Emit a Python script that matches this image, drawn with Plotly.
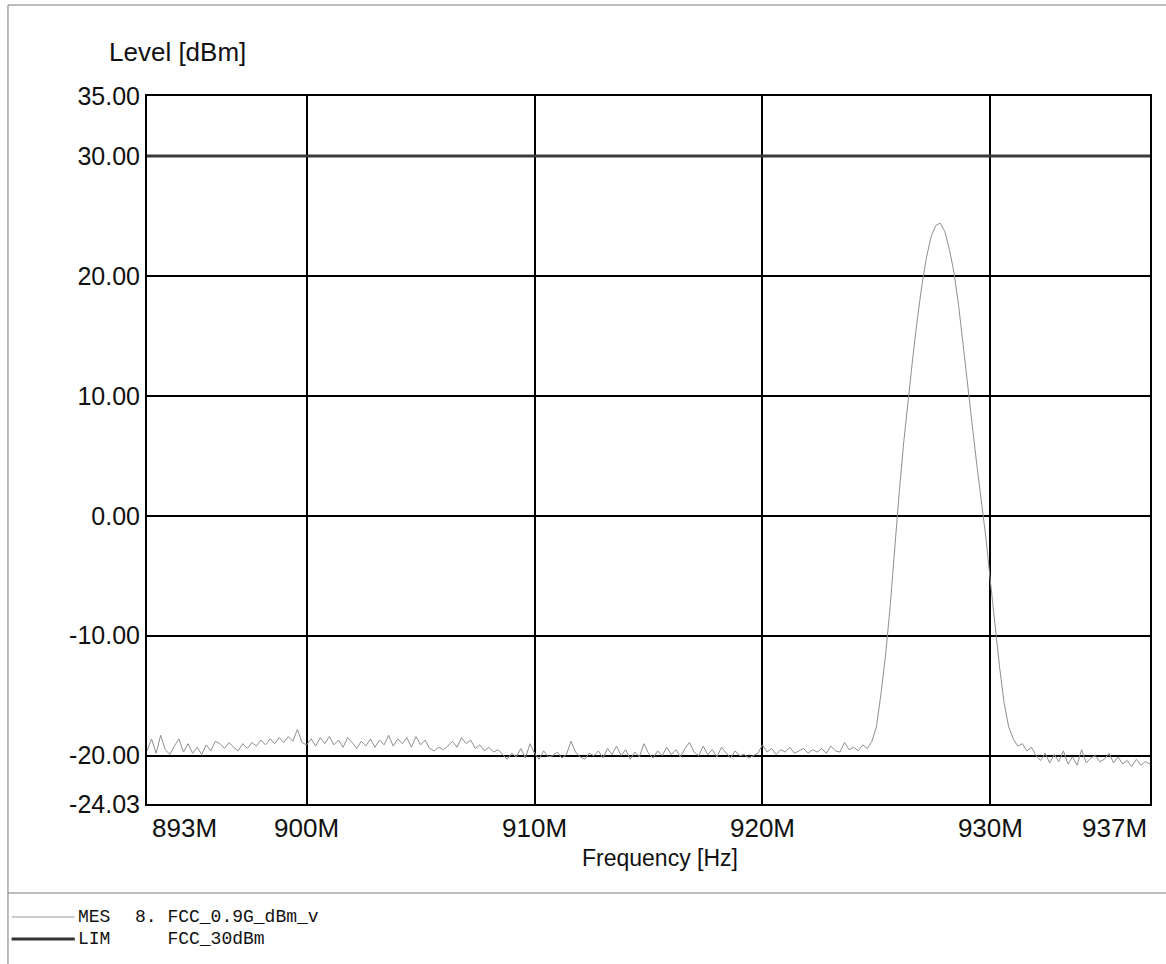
import numpy as np
import plotly.graph_objects as go

# sweep 893 MHz .. 937 MHz, 0.2 MHz step; one row per MHz (5 points)
f_start_mhz = 893.0
f_step_mhz = 0.2

level_dbm = [
    -19.6, -18.6, -19.8, -18.3, -19.5,  # 893
    -19.9, -19.2, -18.6, -19.7, -19.0,  # 894
    -19.8, -19.3, -19.9, -19.1, -19.6,  # 895
    -18.8, -19.0, -19.4, -18.9, -19.3,  # 896
    -19.6, -19.0, -19.4, -18.9, -19.2,  # 897
    -18.7, -19.1, -18.6, -19.0, -18.5,  # 898
    -18.9, -18.4, -18.8, -17.8, -18.9,  # 899
    -19.1, -18.6, -19.2, -18.5, -19.0,  # 900
    -18.4, -19.1, -18.7, -19.3, -18.5,  # 901
    -18.9, -19.4, -18.8, -19.2, -18.6,  # 902
    -19.3, -18.7, -19.1, -18.3, -19.2,  # 903
    -18.6, -19.0, -18.5, -19.3, -18.4,  # 904
    -19.1, -18.7, -19.4, -19.6, -19.3,  # 905
    -19.5, -19.2, -18.8, -19.3, -18.5,  # 906
    -19.0, -18.7, -19.4, -19.1, -19.6,  # 907
    -19.3, -19.7, -19.5, -19.9, -20.3,  # 908
    -19.8, -20.1, -19.4, -20.2, -19.0,  # 909
    -19.8, -20.3, -19.6, -20.1, -20.0,  # 910
    -19.7, -20.2, -19.9, -18.8, -19.7,  # 911
    -20.1, -20.3, -19.8, -20.0, -19.6,  # 912
    -20.2, -19.4, -19.9, -19.2, -20.0,  # 913
    -19.5, -20.3, -19.7, -20.1, -19.0,  # 914
    -19.8, -20.2, -19.6, -20.0, -19.3,  # 915
    -19.9, -19.5, -20.1, -19.4, -18.9,  # 916
    -19.7, -20.0, -19.2, -19.9, -19.5,  # 917
    -20.1, -19.3, -19.8, -20.2, -19.6,  # 918
    -20.0, -19.9, -20.2, -20.0, -19.8,  # 919
    -19.1, -19.7, -19.4, -19.9, -19.5,  # 920
    -19.7, -19.3, -19.8, -19.6, -19.4,  # 921
    -19.8, -19.5, -19.7, -19.4, -19.8,  # 922
    -19.2, -19.6, -19.7, -18.9, -19.5,  # 923
    -19.3, -19.6, -19.1, -19.4, -18.8,  # 924
    -17.6, -14.8, -11.6, -7.6, -2.6,    # 925
    2.0, 6.2, 10.0, 13.3, 16.5,         # 926
    19.3, 21.6, 23.3, 24.2, 24.4,       # 927
    23.7, 22.2, 20.3, 17.6, 14.3,       # 928
    11.2, 7.6, 4.3, 1.3, -1.8,          # 929
    -5.5, -9.2, -12.6, -15.6, -17.6,    # 930
    -18.6, -19.2, -19.0, -19.6, -19.3,  # 931
    -20.0, -20.4, -19.8, -20.6, -19.9,  # 932
    -20.5, -19.6, -20.7, -20.1, -20.8,  # 933
    -19.5, -20.6, -20.2, -20.0, -20.5,  # 934
    -20.3, -19.8, -20.6, -20.1, -20.7,  # 935
    -20.4, -20.9, -20.3, -20.8, -20.5,  # 936
    -20.7,                              # 937
]
freq_mhz = f_start_mhz + f_step_mhz * np.arange(len(level_dbm))

limit_freq_mhz = [893.0, 937.0]
limit_dbm = [30.0, 30.0]

x_tickvals = [900, 910, 920, 930]
x_ticktext = ["900M", "910M", "920M", "930M"]
y_tickvals = [35.0, 30.0, 20.0, 10.0, 0.0, -10.0, -20.0, -24.03]
y_ticktext = [f"{v:.2f}" for v in y_tickvals]

sans = "Liberation Sans, Arial, sans-serif"
mono = "Liberation Mono, Courier New, monospace"

fig = go.Figure()
fig.add_trace(
    go.Scatter(
        x=freq_mhz,
        y=level_dbm,
        mode="lines",
        name="MES 8. FCC_0.9G_dBm_v",
        line=dict(color="#8f8f8f", width=1),
        showlegend=False,
    )
)
fig.add_trace(
    go.Scatter(
        x=limit_freq_mhz,
        y=limit_dbm,
        mode="lines",
        name="LIM FCC_30dBm",
        line=dict(color="#3a3a3a", width=3),
        showlegend=False,
    )
)

# outer frame, legend separator, legend samples (paper coords)
grey = "#7a7a7a"
fig.add_shape(type="line", xref="paper", yref="paper", x0=-0.1386, x1=1.02,
              y0=1.1285, y1=1.1285, line=dict(color=grey, width=1))
fig.add_shape(type="line", xref="paper", yref="paper", x0=-0.1386, x1=-0.1386,
              y0=1.1285, y1=-0.23, line=dict(color=grey, width=1))
fig.add_shape(type="line", xref="paper", yref="paper", x0=-0.1386, x1=1.02,
              y0=-0.1257, y1=-0.1257, line=dict(color=grey, width=1))
fig.add_shape(type="line", xref="paper", yref="paper", x0=-0.135, x1=-0.072,
              y0=-0.1596, y1=-0.1596, line=dict(color="#9a9a9a", width=1))
fig.add_shape(type="line", xref="paper", yref="paper", x0=-0.135, x1=-0.072,
              y0=-0.1907, y1=-0.1907, line=dict(color="#333333", width=3))

legend_rows = [("MES", "8. FCC_0.9G_dBm_v", -0.1596), ("LIM", "   FCC_30dBm", -0.1907)]
for tag, label, yy in legend_rows:
    fig.add_annotation(x=-0.071, y=yy, xref="paper", yref="paper", text=tag,
                       showarrow=False, xanchor="left", yanchor="middle",
                       font=dict(family=mono, size=18, color="#111"))
    fig.add_annotation(x=-0.014, y=yy, xref="paper", yref="paper",
                       text=label.replace(" ", "&nbsp;"),
                       showarrow=False, xanchor="left", yanchor="middle",
                       font=dict(family=mono, size=18, color="#111"))

# axis titles and end tick labels
fig.add_annotation(x=-0.04, y=1.062, xref="paper", yref="paper", text="Level [dBm]",
                   showarrow=False, xanchor="left", yanchor="middle",
                   font=dict(family=sans, size=26, color="#111"))
fig.add_annotation(x=0.511, y=-0.076, xref="paper", yref="paper", text="Frequency [Hz]",
                   showarrow=False, xanchor="center", yanchor="middle",
                   font=dict(family=sans, size=23, color="#111"))
fig.add_annotation(x=0.003, y=-0.0345, xref="paper", yref="paper", text="893M",
                   showarrow=False, xanchor="left", yanchor="middle",
                   font=dict(family=sans, size=26, color="#111"))
fig.add_annotation(x=0.999, y=-0.0345, xref="paper", yref="paper", text="937M",
                   showarrow=False, xanchor="right", yanchor="middle",
                   font=dict(family=sans, size=26, color="#111"))

fig.update_layout(
    width=1166,
    height=964,
    margin=dict(l=147, r=16, t=96, b=160),
    paper_bgcolor="white",
    plot_bgcolor="white",
    font=dict(family=sans, size=26, color="#111"),
    xaxis=dict(
        range=[893, 937],
        tickvals=x_tickvals,
        ticktext=x_ticktext,
        tickfont=dict(size=26),
        showgrid=True,
        gridcolor="black",
        gridwidth=2,
        showline=True,
        linecolor="black",
        linewidth=2,
        mirror=True,
        zeroline=False,
        ticks="",
    ),
    yaxis=dict(
        range=[-24.03, 35],
        tickvals=y_tickvals,
        ticktext=y_ticktext,
        tickfont=dict(size=25),
        showgrid=True,
        gridcolor="black",
        gridwidth=2,
        showline=True,
        linecolor="black",
        linewidth=2,
        mirror=True,
        zeroline=False,
        ticks="",
    ),
)

fig.write_html(
    "out.html",
    config={"displayModeBar": False},
    post_script="document.body.style.margin = '0';",
)
